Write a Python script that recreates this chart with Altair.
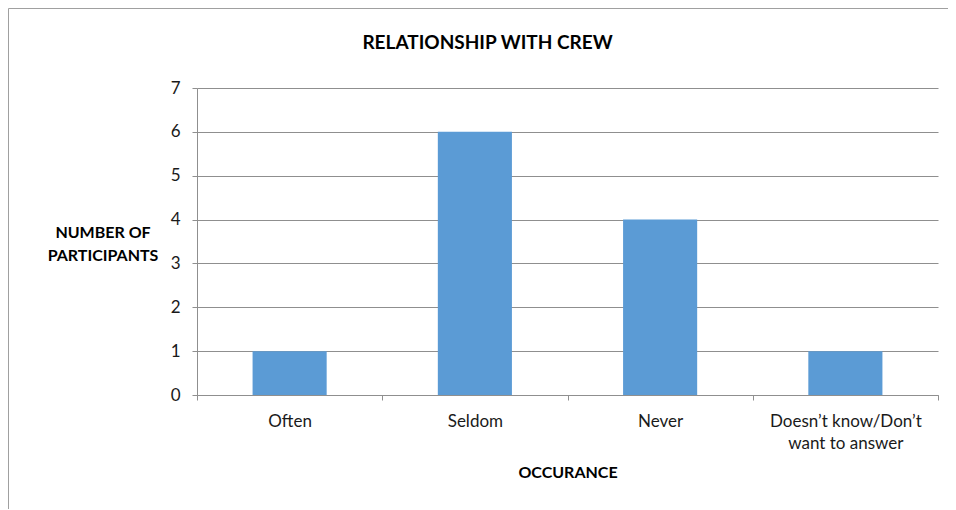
import altair as alt
import pandas as pd

categories = ["Often", "Seldom", "Never", "Doesn’t know/Don’t want to answer"]
values = [1, 6, 4, 1]
y_ticks = [0, 1, 2, 3, 4, 5, 6, 7]
title_text = "RELATIONSHIP WITH CREW"
y_title = ["NUMBER OF", "PARTICIPANTS"]
x_title = "OCCURANCE"

df = pd.DataFrame({"category": categories, "count": values})

FONT = "Lato"
W, H = 741, 307
PL, PT, PR, PB = 189, 80, 10, 114
GRID = "#8f8f8f"

frame = alt.Chart(pd.DataFrame({"f": [0]})).mark_rect(
    fillOpacity=0, stroke="#a0a0a0", strokeWidth=1
).encode(
    x=alt.value(-188.5), x2=alt.value(W + PR + 5),
    y=alt.value(-79.5), y2=alt.value(H + PB + 5),
)

label_expr = ("datum.label == 'Doesn’t know/Don’t want to answer' ? "
              "['Doesn’t know/Don’t', 'want to answer'] : datum.label")

bars = alt.Chart(df).mark_bar(color="#5B9BD5", width=alt.RelativeBandSize(0.4)).encode(
    x=alt.X("category:N", sort=categories,
            scale=alt.Scale(paddingInner=0, paddingOuter=0),
            axis=alt.Axis(title=x_title, labelAngle=0, tickBand="extent",
                          labelExpr=label_expr, labelLineHeight=22,
                          labelFont=FONT, labelFontSize=17, labelColor="#1a1a1a",
                          labelPadding=13, labelBaseline="top",
                          tickSize=5, tickColor=GRID, domainColor=GRID,
                          titleFont=FONT, titleFontSize=16, titleFontWeight="bold",
                          titleColor="#000000", titleBaseline="alphabetic",
                          titleY=82, grid=False)),
    y=alt.Y("count:Q", scale=alt.Scale(domain=[0, 7]),
            axis=alt.Axis(values=y_ticks, title=y_title, titleAngle=0,
                          titleX=-94.5, titleY=149, titleAlign="center",
                          titleBaseline="alphabetic", titleLineHeight=23,
                          titleFont=FONT, titleFontSize=16, titleFontWeight="bold",
                          titleColor="#000000",
                          labelFont=FONT, labelFontSize=17, labelColor="#1a1a1a",
                          labelPadding=12, tickSize=5, tickColor=GRID,
                          domainColor=GRID, grid=True, gridColor=GRID,
                          format="d")),
)

chart = alt.layer(frame, bars).properties(
    width=W, height=H,
    autosize=alt.AutoSizeParams(type="none"),
    padding={"left": PL, "top": PT, "right": PR, "bottom": PB},
    title=alt.Title(title_text, font=FONT, fontSize=19, fontWeight="bold",
                    color="#000000", anchor="middle", dx=-80, offset=-60,
                    baseline="alphabetic", frame="group"),
).configure_view(stroke=None)

chart.save("out.html", embed_options={"renderer": "svg", "actions": False})
